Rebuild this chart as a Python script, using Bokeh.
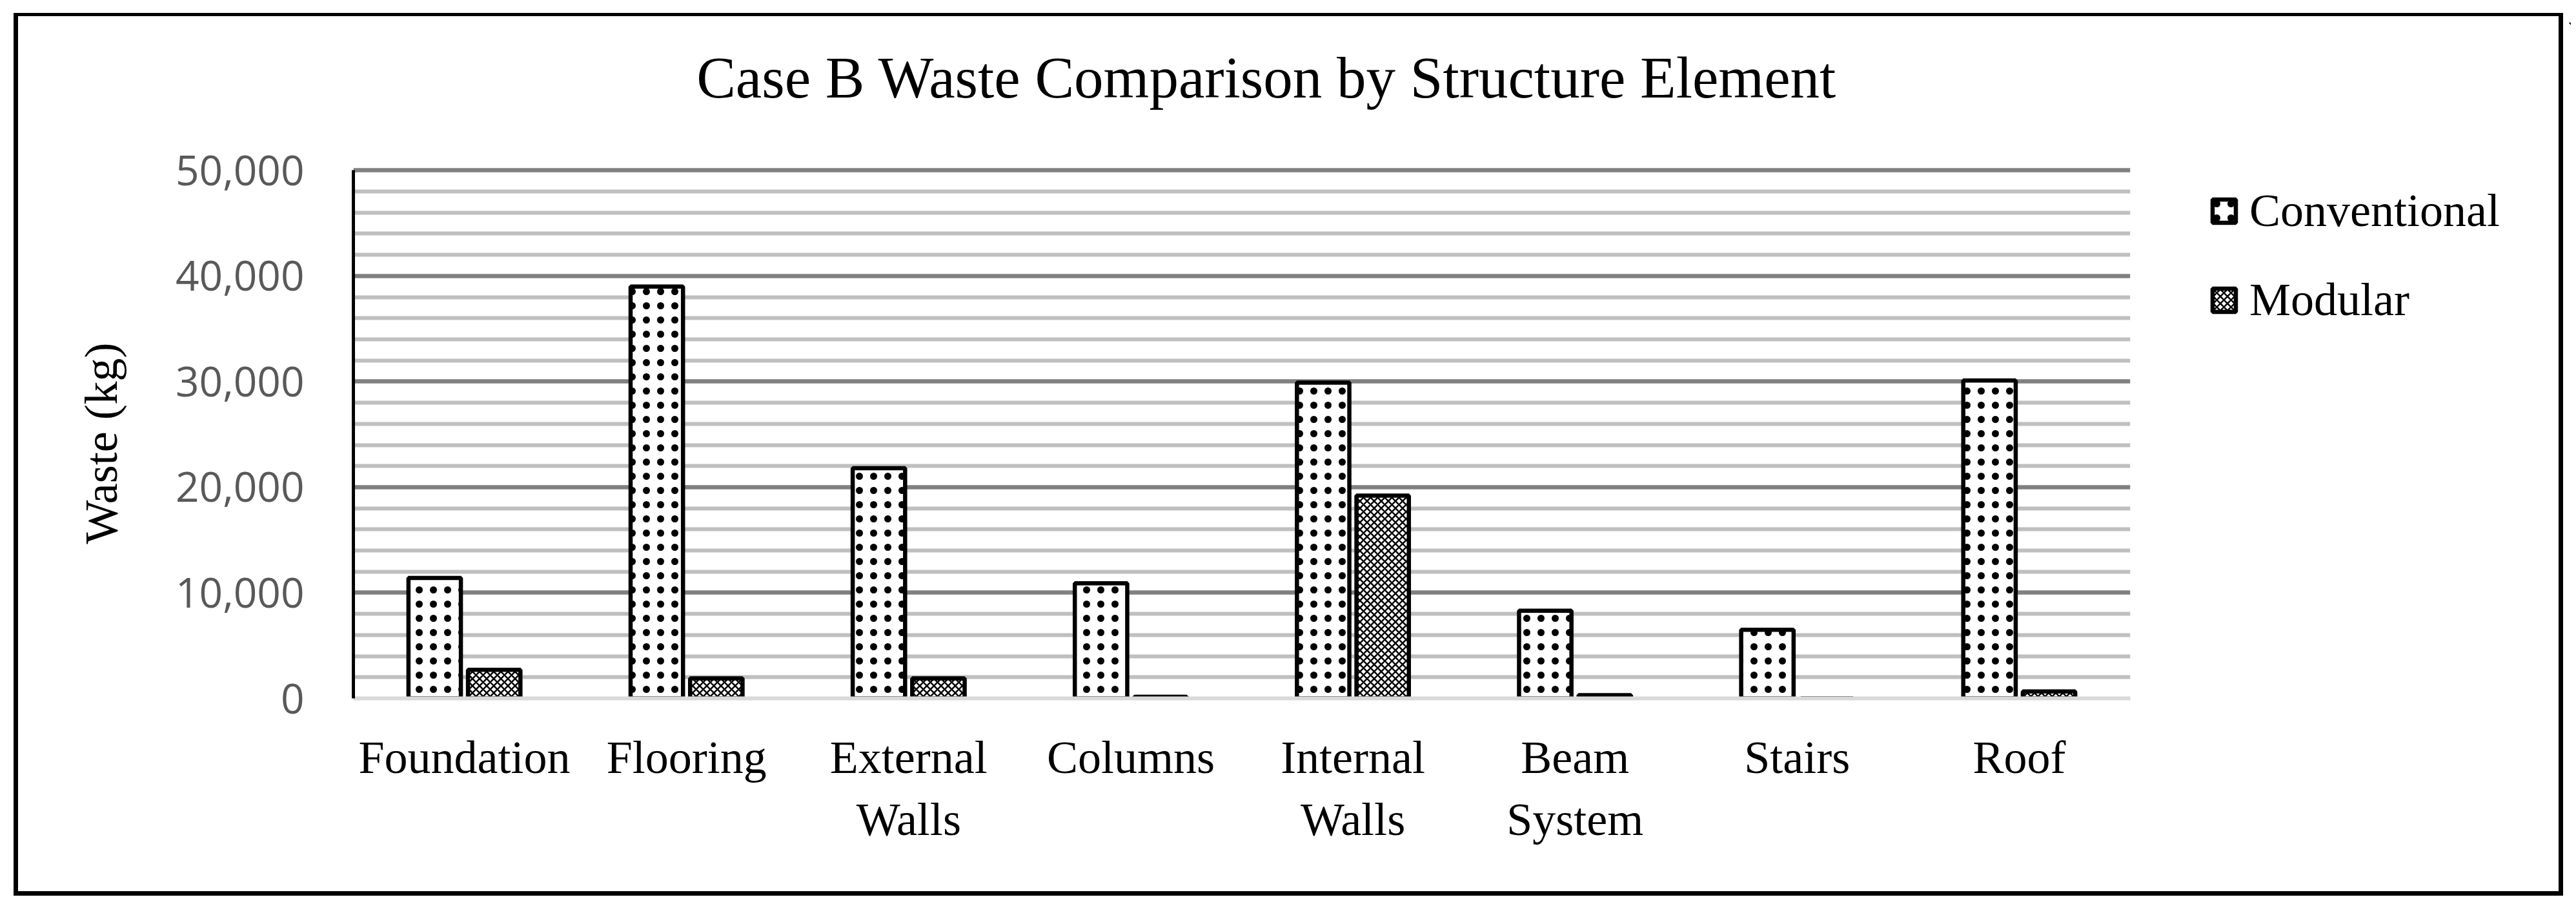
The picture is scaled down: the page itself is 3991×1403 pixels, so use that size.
from bokeh.plotting import figure
from bokeh.layouts import row
from bokeh.models import (FactorRange, Range1d, FixedTicker, NumeralTickFormatter,
                          ColumnDataSource, Legend, LegendItem, Label, Title)
from bokeh.transform import dodge
from bokeh.embed import file_html
from bokeh.resources import INLINE

# ---- data ----
categories = ["Foundation", "Flooring", "External\nWalls", "Columns",
              "Internal\nWalls", "Beam\nSystem", "Stairs", "Roof"]
conventional = [11400, 39000, 21800, 10900, 29900, 8300, 6500, 30100]
modular = [2700, 1900, 1900, 150, 19200, 300, 0, 650]
series_names = ["Conventional", "Modular"]
y_major_ticks = [0, 10000, 20000, 30000, 40000, 50000]
y_minor_ticks = [2000, 4000, 6000, 8000, 12000, 14000, 16000, 18000,
                 22000, 24000, 26000, 28000, 32000, 34000, 36000, 38000,
                 42000, 44000, 46000, 48000]
title_text = "Case B Waste Comparison by Structure Element"
y_label = "Waste (kg)"

SERIF = "Liberation Serif"
CONV_STYLE = dict(fill_color="white", line_color="black", line_width=6.5,
                  hatch_pattern=".", hatch_color="black", hatch_scale=22, hatch_weight=1)
MOD_STYLE = dict(fill_color="white", line_color="black", line_width=6.5,
                 hatch_pattern="x", hatch_color="black", hatch_scale=11, hatch_weight=2.5)

src = ColumnDataSource(dict(cat=categories, conv=conventional, mod=modular))

H = 1390
# the frame also spans the title area; 50,000 sits 817.7 px above the baseline
p = figure(x_range=FactorRange(*categories, range_padding=0),
           y_range=Range1d(0, 63960),
           width=3310, height=H, output_backend="svg", toolbar_location=None,
           min_border_left=547, min_border_right=10,
           min_border_top=35, min_border_bottom=309)
p.outline_line_color = None
p.background_fill_color = "white"
p.border_fill_alpha = 0

bw = 0.236
r_conv = p.vbar(x=dodge("cat", -0.134, range=p.x_range), top="conv", width=bw,
                source=src, **CONV_STYLE)
r_mod = p.vbar(x=dodge("cat", 0.134, range=p.x_range), top="mod", width=bw,
               source=src, **MOD_STYLE)

# y axis
p.yaxis.ticker = FixedTicker(ticks=y_major_ticks, minor_ticks=y_minor_ticks)
p.yaxis.bounds = (y_major_ticks[0], y_major_ticks[-1])
p.yaxis.formatter = NumeralTickFormatter(format="0,0")
p.yaxis.axis_line_color = "black"
p.yaxis.axis_line_width = 5
p.yaxis.major_tick_line_color = None
p.yaxis.minor_tick_line_color = None
p.yaxis.major_label_text_font = "Open Sans"
p.yaxis.major_label_text_font_size = "64px"
p.yaxis.major_label_text_color = "#595959"
p.yaxis.major_label_standoff = 70

# y axis title, placed along the 0..50,000 span
p.add_layout(Title(text=y_label, align="left", offset=239, vertical_align="bottom",
                   standoff=144, text_font=SERIF, text_font_size="72px",
                   text_font_style="normal", text_color="black"), "left")

# x axis
p.xaxis.axis_line_color = "#d9d9d9"
p.xaxis.axis_line_width = 6
p.xaxis.major_tick_line_color = None
p.xaxis.minor_tick_line_color = None
p.xaxis.major_label_text_font = SERIF
p.xaxis.major_label_text_font_size = "72px"
p.xaxis.major_label_text_color = "black"
p.xaxis.major_label_standoff = 45

# grid
p.xgrid.grid_line_color = None
p.ygrid.grid_line_color = "#808080"
p.ygrid.grid_line_width = 6.5
p.ygrid.minor_grid_line_color = "#bfbfbf"
p.ygrid.minor_grid_line_width = 6

# chart title (inside the frame, above the 50,000 line)
p.add_layout(Label(x=4.112, y=58780, text=title_text, text_align="center",
                   text_baseline="middle", text_font=SERIF,
                   text_font_size="91px", text_color="black"))

# legend panel (separate figure to the right of the plot area);
# its bars lie far outside the visible ranges, only the legend shows
q = figure(width=673, height=H, x_range=FactorRange(*categories),
           y_range=Range1d(-120000, -60000),
           x_axis_type=None, y_axis_type=None, output_backend="svg",
           toolbar_location=None, min_border=0)
q.outline_line_color = None
q.background_fill_alpha = 0
q.border_fill_alpha = 0
q.xgrid.visible = False
q.ygrid.visible = False
l_conv = q.vbar(x=dodge("cat", 100, range=q.x_range), top="conv", width=0.3,
                source=src, **CONV_STYLE)
l_mod = q.vbar(x=dodge("cat", 100, range=q.x_range), top="mod", width=0.3,
               source=src, **MOD_STYLE)

legend = Legend(items=[LegendItem(label=series_names[0], renderers=[l_conv], index=0),
                       LegendItem(label=series_names[1], renderers=[l_mod], index=0)],
                location=(113, 575), orientation="vertical",
                padding=0, margin=0, spacing=55,
                glyph_width=45, glyph_height=45, label_standoff=17,
                label_text_font=SERIF, label_text_font_size="72px",
                label_text_color="black",
                border_line_color=None, background_fill_alpha=0)
q.add_layout(legend, "center")

# chart-area border drawn behind the transparent canvas margins
box = row(p, q)
g = "linear-gradient(#000, #000)"
box.styles = {
    "background-color": "white",
    "background-image": ", ".join([g] * 4),
    "background-repeat": "no-repeat",
    "background-size": "3950px 5px, 3950px 7px, 7px 1367px, 7px 1367px",
    "background-position": "21px 20px, 21px 1380px, 21px 20px, 3964px 20px",
}

open("out.html", "w").write(file_html(box, INLINE))
